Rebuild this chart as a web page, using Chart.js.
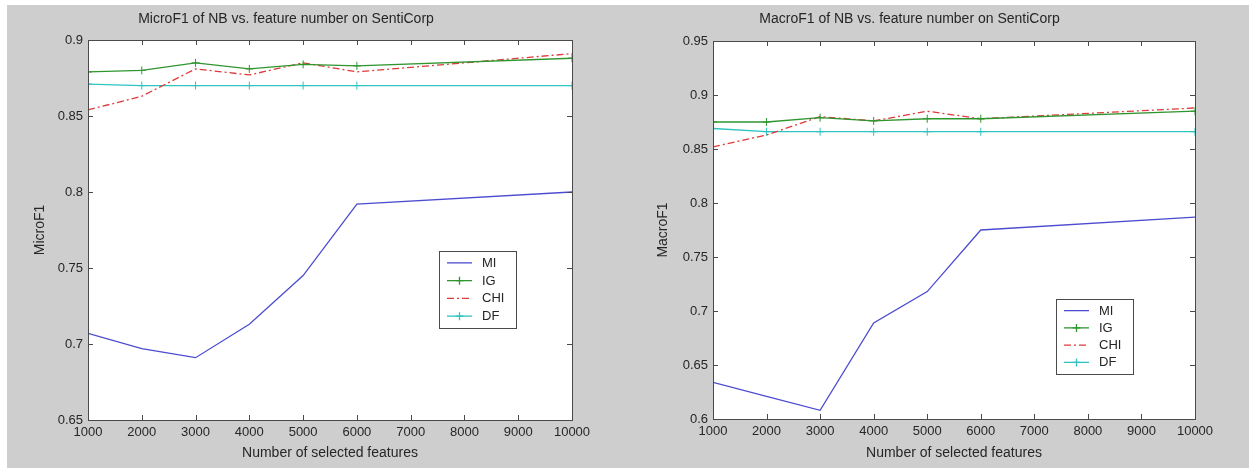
<!DOCTYPE html>
<html>
<head>
<meta charset="utf-8">
<script src="https://cdn.jsdelivr.net/npm/chart.js@4.4.1/dist/chart.umd.min.js"></script>
<style>
  html, body { margin: 0; padding: 0; background: #fff; }
  #page { position: relative; width: 1249px; height: 468px; overflow: hidden; }
  #bg { position: absolute; left: 7px; top: 5px; right: 0; bottom: 0; background: #cecece; }
  .box { position: absolute; top: 0; height: 468px; }
  #leftBox { left: 0; width: 624px; }
  #rightBox { left: 624px; width: 625px; }
</style>
</head>
<body>
<div id="page">
  <div id="bg"></div>
  <div class="box" id="leftBox"><canvas id="microChart"></canvas></div>
  <div class="box" id="rightBox"><canvas id="macroChart"></canvas></div>
</div>
<script>
// number of selected features (x values)
var features = [1000, 2000, 3000, 4000, 5000, 6000, 10000];
var seriesNames = ['MI', 'IG', 'CHI', 'DF'];

// MicroF1 values
var microMI  = [0.707, 0.697, 0.691, 0.713, 0.745, 0.792, 0.800];
var microIG  = [0.879, 0.880, 0.885, 0.881, 0.884, 0.883, 0.888];
var microCHI = [0.854, 0.863, 0.881, 0.877, 0.885, 0.879, 0.891];
var microDF  = [0.871, 0.870, 0.870, 0.870, 0.870, 0.870, 0.870];

// MacroF1 values
var macroMI  = [0.634, 0.621, 0.608, 0.689, 0.718, 0.775, 0.787];
var macroIG  = [0.875, 0.875, 0.879, 0.876, 0.878, 0.878, 0.885];
var macroCHI = [0.852, 0.863, 0.880, 0.876, 0.885, 0.878, 0.888];
var macroDF  = [0.869, 0.866, 0.866, 0.866, 0.866, 0.866, 0.866];

// tick labels
var xTicks = [1000, 2000, 3000, 4000, 5000, 6000, 7000, 8000, 9000, 10000];
var microTicks = [0.65, 0.7, 0.75, 0.8, 0.85, 0.9];
var macroTicks = [0.6, 0.65, 0.7, 0.75, 0.8, 0.85, 0.9, 0.95];

var FONT = '"Liberation Sans", Arial, sans-serif';
var TEXT = '#262626';
var AXIS = '#4a4a4a';

// line styles per series
var styles = [
    { color: '#4c4cd0', dash: [], marker: false },
    { color: '#2f962f', dash: [], marker: true },
    { color: '#dd3a3a', dash: [7, 3, 2, 3], marker: false },
    { color: '#2ec4c0', dash: [], marker: true }
];

function pairs(values) {
    return values.map(function (v, i) { return { x: features[i], y: v }; });
}

// white plot area, box and inward ticks like a matlab axes
const matlabAxes = {
    id: 'matlabAxes',
    beforeDatasetsDraw(chart) {
        const a = chart.chartArea, ctx = chart.ctx;
        ctx.save();
        ctx.fillStyle = '#fff';
        ctx.fillRect(a.left, a.top, a.right - a.left, a.bottom - a.top);
        ctx.restore();
    },
    afterDatasetsDraw(chart) {
        const a = chart.chartArea, ctx = chart.ctx;
        const x = chart.scales.x, y = chart.scales.y;
        const len = 5;
        ctx.save();
        ctx.strokeStyle = AXIS;
        ctx.lineWidth = 1;
        ctx.beginPath();
        x.ticks.forEach(function (t) {
            const px = Math.round(x.getPixelForValue(t.value)) + 0.5;
            ctx.moveTo(px, a.bottom); ctx.lineTo(px, a.bottom - len);
            ctx.moveTo(px, a.top); ctx.lineTo(px, a.top + len);
        });
        y.ticks.forEach(function (t) {
            const py = Math.round(y.getPixelForValue(t.value)) + 0.5;
            ctx.moveTo(a.left, py); ctx.lineTo(a.left + len, py);
            ctx.moveTo(a.right, py); ctx.lineTo(a.right - len, py);
        });
        ctx.stroke();
        ctx.strokeRect(Math.round(a.left) + 0.5, Math.round(a.top) + 0.5,
            Math.round(a.right - a.left), Math.round(a.bottom - a.top));
        ctx.restore();
    },
    afterDraw(chart) {
        // legend box inside the plot
        const o = chart.options.plugins.matlabAxes;
        if (!o) return;
        const ctx = chart.ctx;
        ctx.save();
        ctx.fillStyle = '#fff';
        ctx.fillRect(o.x, o.y, o.w, o.h);
        ctx.strokeStyle = AXIS;
        ctx.lineWidth = 1;
        ctx.strokeRect(o.x + 0.5, o.y + 0.5, o.w, o.h);
        const pad = 3;
        const rowH = (o.h - 2 * pad) / chart.data.datasets.length;
        ctx.font = '13px ' + FONT;
        ctx.textBaseline = 'middle';
        chart.data.datasets.forEach(function (ds, i) {
            const ry = o.y + pad + rowH * (i + 0.5);
            ctx.strokeStyle = ds.borderColor;
            ctx.lineWidth = 1.3;
            ctx.setLineDash(ds.borderDash || []);
            ctx.beginPath();
            ctx.moveTo(o.x + 8, ry); ctx.lineTo(o.x + 33, ry);
            ctx.stroke();
            ctx.setLineDash([]);
            if (ds.pointRadius > 0) {
                ctx.beginPath();
                ctx.moveTo(o.x + 20.5, ry - 4); ctx.lineTo(o.x + 20.5, ry + 4);
                ctx.moveTo(o.x + 16.5, ry); ctx.lineTo(o.x + 24.5, ry);
                ctx.stroke();
            }
            ctx.fillStyle = TEXT;
            ctx.fillText(ds.label, o.x + 43, ry + 0.5);
        });
        ctx.restore();
    }
};

function makeChart(id, title, yTitle, series, yTicks, box) {
    const datasets = series.map(function (vals, i) {
        const s = styles[i];
        return {
            label: seriesNames[i],
            data: pairs(vals),
            borderColor: s.color,
            backgroundColor: s.color,
            borderWidth: 1.3,
            borderDash: s.dash,
            tension: 0,
            pointStyle: 'cross',
            pointRadius: s.marker ? 4 : 0,
            pointBorderWidth: 1,
            pointBorderColor: s.color
        };
    });

    return new Chart(document.getElementById(id), {
        type: 'line',
        data: { datasets: datasets },
        options: {
            responsive: true,
            maintainAspectRatio: false,
            animation: false,
            events: [],
            layout: { padding: { left: 0, right: box.padRight, top: 0, bottom: 0 } },
            plugins: {
                legend: { display: false },
                tooltip: { enabled: false },
                title: {
                    display: true, text: title, color: TEXT,
                    font: { family: FONT, size: 14, weight: 'normal' },
                    padding: { top: 11, bottom: box.titleBottom }
                },
                matlabAxes: box.legend
            },
            scales: {
                x: {
                    type: 'linear', min: 1000, max: 10000,
                    afterBuildTicks: function (s) { s.ticks = xTicks.map(function (v) { return { value: v }; }); },
                    afterFit: function (s) { s.height = box.xHeight; },
                    grid: { display: false, drawTicks: false },
                    border: { display: false },
                    ticks: {
                        padding: 5, color: TEXT, maxRotation: 0, autoSkip: false,
                        font: { family: FONT, size: 13 },
                        callback: function (v) { return String(v); }
                    },
                    title: {
                        display: true, text: 'Number of selected features', color: TEXT,
                        font: { family: FONT, size: 14 }, padding: { top: 0, bottom: 6.6 }
                    }
                },
                y: {
                    min: yTicks[0], max: yTicks[yTicks.length - 1],
                    afterBuildTicks: function (s) { s.ticks = yTicks.map(function (v) { return { value: v }; }); },
                    afterFit: function (s) { s.width = box.yWidth; },
                    grid: { display: false, drawTicks: false },
                    border: { display: false },
                    ticks: {
                        padding: 5, color: TEXT, autoSkip: false,
                        font: { family: FONT, size: 13 },
                        callback: function (v) { return String(+v.toFixed(2)); }
                    },
                    title: {
                        display: true, text: yTitle, color: TEXT,
                        font: { family: FONT, size: 14 }, padding: { top: box.yTitlePad, bottom: 0 }
                    }
                }
            }
        },
        plugins: [matlabAxes]
    });
}

makeChart('microChart', 'MicroF1 of NB vs. feature number on SentiCorp', 'MicroF1',
    [microMI, microIG, microCHI, microDF], microTicks,
    { padRight: 52, yWidth: 88, xHeight: 48, titleBottom: 12.2, yTitlePad: 32,
      legend: { x: 439, y: 251, w: 77, h: 77 } });

makeChart('macroChart', 'MacroF1 of NB vs. feature number on SentiCorp', 'MacroF1',
    [macroMI, macroIG, macroCHI, macroDF], macroTicks,
    { padRight: 54, yWidth: 89, xHeight: 49, titleBottom: 13.2, yTitlePad: 31,
      legend: { x: 432, y: 299, w: 77, h: 75 } });
</script>
</body>
</html>
